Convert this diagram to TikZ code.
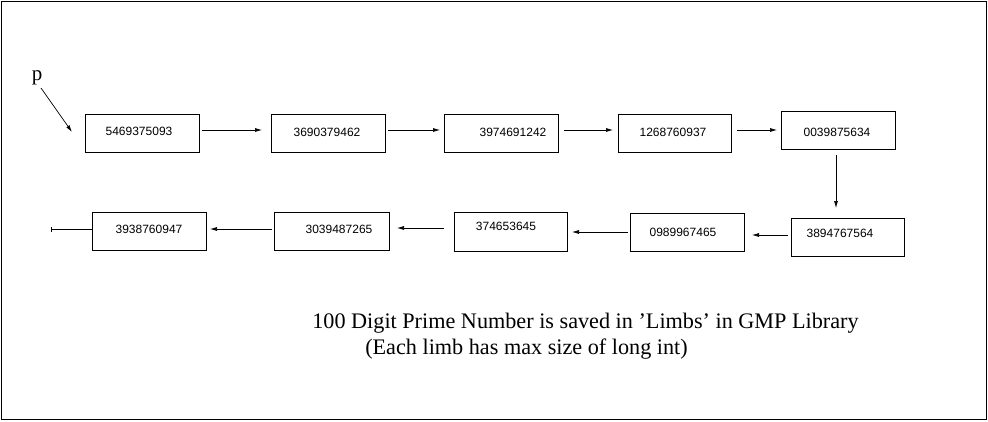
\documentclass[tikz,border=0pt]{standalone}
\usepackage{fontspec}
\setmainfont{Liberation Serif}
\newfontfamily\digitfont{Liberation Sans}
\usetikzlibrary{arrows.meta}
\begin{document}
\begin{tikzpicture}[x=1pt,y=-1pt,
  limb/.style={draw, line width=0.8pt, minimum width=114pt, minimum height=38pt, inner sep=0pt, outer sep=0pt},
  num/.style={font=\digitfont\fontsize{12}{13}\selectfont},
  arr/.style={line width=0.7pt, -{Latex[length=7pt,width=4pt]}},
  note/.style={font=\fontsize{22.2}{24}\selectfont, inner sep=0pt}]
\useasboundingbox (0,0) rectangle (988,421);
\draw[line width=0.8pt] (1,1) rectangle (986,419);
% row 1
\node[limb] (b1) at (142,133) {};
\node[num, xshift=-3pt, yshift=2pt] at (b1) {5469375093};
\node[limb] (b2) at (328,133) {};
\node[num, xshift=-1pt, yshift=1pt] at (b2) {3690379462};
\node[limb] (b3) at (501,133) {};
\node[num, xshift=12pt, yshift=1pt] at (b3) {3974691242};
\node[limb, minimum width=113pt] (b4) at (674.5,133) {};
\node[num, xshift=-1.5pt, yshift=1pt] at (b4) {1268760937};
\node[limb] (b5) at (838,130) {};
\node[num, xshift=-1pt, yshift=-2pt] at (b5) {0039875634};
% row 2
\node[limb, minimum width=113pt] (b6) at (847.5,237) {};
\node[num, xshift=-7.5pt, yshift=4pt] at (b6) {3894767564};
\node[limb] (b7) at (687,232) {};
\node[num, xshift=-4pt] at (b7) {0989967465};
\node[limb, minimum width=113pt, minimum height=39pt] (b8) at (510.5,231.5) {};
\node[num, xshift=-4.5pt, yshift=5.5pt] at (b8) {374653645};
\node[limb, minimum width=115pt] (b9) at (331.5,231) {};
\node[num, xshift=7.5pt, yshift=2pt] at (b9) {3039487265};
\node[limb] (b10) at (149,231) {};
\node[num, yshift=2pt] at (b10) {3938760947};
% pointer p
\node[font=\fontsize{21}{22}\selectfont, inner sep=0pt] (p) at (37,78) {p};
\coordinate (ptip) at (72,132);
\draw[arr] (41,88) -- (ptip);
% connectors row 1
\draw[arr, shorten <=3pt, shorten >=9pt] ([yshift=3pt]b1.east) -- ([yshift=3pt]b1.east -| b2.west);
\draw[arr, shorten <=3pt, shorten >=4pt] ([yshift=3pt]b2.east) -- ([yshift=3pt]b2.east -| b3.west);
\draw[arr, shorten <=6pt, shorten >=5pt] ([yshift=3pt]b3.east) -- ([yshift=3pt]b3.east -| b4.west);
\draw[arr, shorten <=6pt, shorten >=4pt] ([yshift=3pt]b4.east) -- ([yshift=3pt]b4.east -| b5.west);
% down
\draw[arr, shorten <=6pt, shorten >=10pt] ([xshift=-2pt]b5.south) -- ([xshift=-2pt]b5.south |- b6.north);
% row 2
\draw[arr, shorten <=3pt, shorten >=8pt] ([yshift=2pt]b6.west) -- ([yshift=2pt]b6.west -| b7.east);
\draw[arr, shorten <=2pt, shorten >=5pt] (b7.west) -- (b7.west -| b8.east);
\draw[arr, shorten <=10pt, shorten >=8pt] ([yshift=3.5pt]b8.west) -- ([yshift=3.5pt]b8.west -| b9.east);
\draw[arr, shorten <=2pt, shorten >=4pt] ([yshift=2pt]b9.west) -- ([yshift=2pt]b9.west -| b10.east);
\coordinate (tail) at (51,229);
\draw[line width=0.7pt, {Bar[width=5pt]}-] (tail) -- (tail -| b10.west);
% notes
\node[note] (n1) at (585.5,323) {100 Digit Prime Number is saved in ’Limbs’ in GMP Library};
\node[note] (n2) at (526.5,349) {(Each limb has max size of long int)};
\end{tikzpicture}
\end{document}
